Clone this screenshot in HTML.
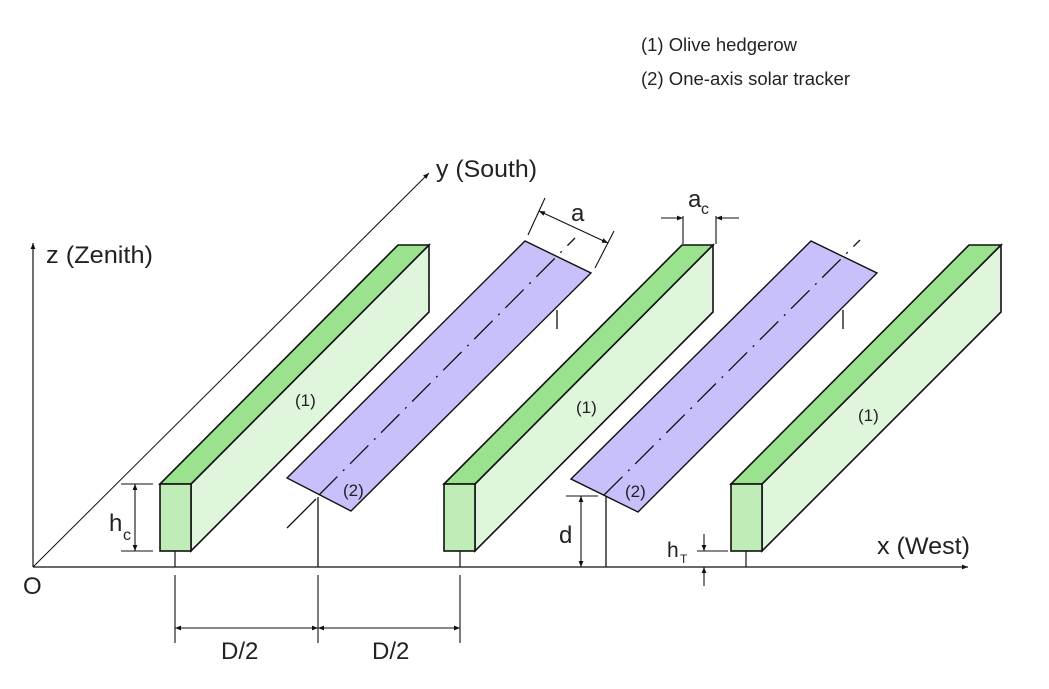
<!DOCTYPE html>
<html><head><style>
html,body{margin:0;padding:0;background:#fff;}
svg{display:block;}
text{font-family:"Liberation Sans",Arial,sans-serif;fill:#222;}
</style></head><body>
<svg width="1049" height="689" viewBox="0 0 1049 689" xmlns="http://www.w3.org/2000/svg">
<defs>
<marker id="ar" viewBox="0 0 10 10" refX="10" refY="5" markerWidth="8" markerHeight="6" orient="auto-start-reverse" markerUnits="userSpaceOnUse"><path d="M0,1 L10,5 L0,9 z" fill="#111"/></marker>
</defs>
<text x="641" y="51" font-size="18" textLength="156" lengthAdjust="spacingAndGlyphs">(1) Olive hedgerow</text>
<text x="641" y="85" font-size="18" textLength="209" lengthAdjust="spacingAndGlyphs">(2) One-axis solar tracker</text>

<g stroke="#111" stroke-width="1.2" fill="none">
<line x1="33" y1="567" x2="33" y2="243" marker-end="url(#ar)"/>
<line x1="33" y1="567" x2="968" y2="567" marker-end="url(#ar)"/>
<line x1="33" y1="567" x2="429" y2="173" stroke-width="1" marker-end="url(#ar)"/>
</g>
<text x="46" y="263" font-size="24" textLength="107" lengthAdjust="spacingAndGlyphs">z (Zenith)</text>
<text x="436" y="177" font-size="24" textLength="101" lengthAdjust="spacingAndGlyphs">y (South)</text>
<text x="877" y="554" font-size="24" textLength="93" lengthAdjust="spacingAndGlyphs">x (West)</text>
<text x="23" y="594" font-size="24">O</text>

<g stroke="#111" stroke-width="1.6" stroke-linejoin="miter">
<polygon points="191,484 429,245 429,312 191,551" fill="#dff5dc"/>
<polygon points="160,484 398,245 429,245 191,484" fill="#9ae28e"/>
<rect x="160" y="484" width="31" height="67" fill="#c0ecb8"/>
<polygon points="475,484 713,245 713,312 475,551" fill="#dff5dc"/>
<polygon points="444,484 682,245 713,245 475,484" fill="#9ae28e"/>
<rect x="444" y="484" width="31" height="67" fill="#c0ecb8"/>
<polygon points="762,484 1001,245 1001,312 762,551" fill="#dff5dc"/>
<polygon points="731,484 969,245 1001,245 762,484" fill="#9ae28e"/>
<rect x="731" y="484" width="31" height="67" fill="#c0ecb8"/>
</g>
<g stroke="#111" stroke-width="1.2">
<line x1="175" y1="551" x2="175" y2="567"/>
<line x1="460" y1="551" x2="460" y2="567"/>
<line x1="746" y1="551" x2="746" y2="567"/>
</g>

<g stroke="#111" stroke-width="1.4" fill="#c8c0fb">
<polygon points="287,478 525,241 591,273 351,511"/>
<polygon points="571,479 811,241 877,273 638,512"/>
</g>
<g stroke="#111" stroke-width="1.3" fill="none">
<line x1="287" y1="528" x2="316" y2="499"/>
<line x1="319" y1="495" x2="575" y2="238" stroke-dasharray="26,8,2,8"/>
<line x1="318" y1="497" x2="318" y2="567"/>
<line x1="557" y1="310" x2="557" y2="329"/>
<line x1="604" y1="495" x2="860" y2="240" stroke-dasharray="26,8,2,8"/>
<line x1="606" y1="496" x2="606" y2="567"/>
<line x1="843" y1="310" x2="843" y2="329"/>
</g>

<g font-size="17">
<text x="295" y="406">(1)</text>
<text x="576" y="413">(1)</text>
<text x="858" y="421">(1)</text>
<text x="343" y="496">(2)</text>
<text x="625" y="497">(2)</text>
</g>

<g stroke="#111" stroke-width="1.1" fill="none">
<line x1="121" y1="484" x2="153" y2="484"/>
<line x1="121" y1="551" x2="153" y2="551"/>
<line x1="135" y1="484" x2="135" y2="551" marker-start="url(#ar)" marker-end="url(#ar)"/>
<line x1="175" y1="575" x2="175" y2="643"/>
<line x1="318" y1="575" x2="318" y2="643"/>
<line x1="460" y1="575" x2="460" y2="643"/>
<line x1="175" y1="628" x2="318" y2="628" marker-start="url(#ar)" marker-end="url(#ar)"/>
<line x1="318" y1="628" x2="460" y2="628" marker-start="url(#ar)" marker-end="url(#ar)"/>
<line x1="566" y1="496" x2="598" y2="496"/>
<line x1="581" y1="496" x2="581" y2="567" marker-start="url(#ar)" marker-end="url(#ar)"/>
<line x1="697" y1="551" x2="728" y2="551"/>
<line x1="704" y1="534" x2="704" y2="551" marker-end="url(#ar)"/>
<line x1="704" y1="586" x2="704" y2="567" marker-end="url(#ar)"/>
<line x1="545" y1="198" x2="528" y2="235"/>
<line x1="614" y1="231" x2="595" y2="268"/>
<line x1="539" y1="211" x2="608" y2="243" marker-start="url(#ar)" marker-end="url(#ar)"/>
<line x1="683" y1="216" x2="683" y2="244"/>
<line x1="716" y1="216" x2="716" y2="244"/>
<line x1="661" y1="218" x2="683" y2="218" marker-end="url(#ar)"/>
<line x1="739" y1="218" x2="716" y2="218" marker-end="url(#ar)"/>
</g>
<text x="109" y="531" font-size="24">h</text><text x="123" y="540" font-size="16">c</text>
<text x="221" y="659" font-size="24">D/2</text>
<text x="372" y="659" font-size="24">D/2</text>
<text x="559" y="543" font-size="24">d</text>
<text x="667" y="557" font-size="21">h</text><text x="680" y="563" font-size="12">T</text>
<text x="571" y="221" font-size="24">a</text>
<text x="688" y="207" font-size="24">a</text><text x="701" y="214" font-size="16">c</text>
</svg>
</body></html>
